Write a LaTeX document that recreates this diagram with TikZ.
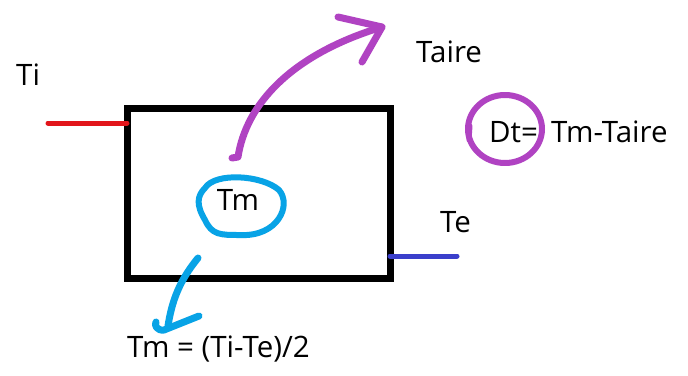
\documentclass[tikz,border=0pt]{standalone}
\usepackage{fontspec}
\setmainfont{Open Sans}
\usetikzlibrary{arrows.meta}
\definecolor{mag}{HTML}{B043C2}
\definecolor{cyanb}{HTML}{08A3E6}
\definecolor{redl}{HTML}{E2151B}
\definecolor{indl}{HTML}{3B3FCB}
\tikzset{
  lbl/.style={font=\fontsize{29.5}{32}\selectfont, inner sep=0pt},
  pen/.style={line width=#1, line cap=round, line join=round},
}
\begin{document}
\begin{tikzpicture}[x=1pt,y=-1pt]
\useasboundingbox[fill=white] (0,0) rectangle (688,375);
% box
\draw[line width=7pt] (127,108) rectangle (390,278);
\coordinate (boxL) at (127,123);
\coordinate (boxR) at (390,256);
\coordinate (redEnd) at (48,123);
\coordinate (indEnd) at (457,256);
\draw[pen=5pt, redl] (redEnd) -- (boxL);
\draw[pen=5pt, indl] (boxR) -- (indEnd);
% labels
\node[lbl, anchor=base west] (ti) at (16,85) {Ti};
\node[lbl, anchor=base west] (taire) at (416,62) {Taire};
\node[lbl, anchor=base west] (te) at (440,232) {Te};
\node[lbl, anchor=base west] (dt) at (489,142) {Dt=};
\node[lbl, anchor=base west] (dt2) at (551,142) {Tm-Taire};
\node[lbl] (tm) at (238,200) {Tm};
\node[lbl, anchor=base west] (tmeq) at (127,357) {Tm = (Ti-Te)/2};
% magenta arrow
\coordinate (ma) at (232,158);
\coordinate (mb) at (382,27);
\draw[pen=7pt, mag] (ma) -- (238,157) .. controls (246,105) and (290,55) .. (mb);
\draw[pen=7pt, mag] (338,17) -- (mb) -- (362,62);
% magenta circle
\draw[pen=6pt, mag] (505,129) ellipse (37 and 34);
\draw[pen=5pt, mag] (470,126) -- (469,140);
% cyan blob
\draw[pen=6pt, cyanb] (205,188) .. controls (215,172) and (262,175) .. (279,190)
  .. controls (292,205) and (278,237) .. (240,235)
  .. controls (220,235) and (212,235) .. (205,220)
  .. controls (196,205) and (197,196) .. (205,188);
% cyan arrow
\coordinate (ca) at (198,258);
\coordinate (cb) at (162,328);
\draw[pen=7pt, cyanb] (ca) .. controls (180,280) and (172,300) .. (168,326);
\draw[pen=7pt, cyanb] (199,316) -- (164,330) .. controls (157,331) and (154,325) .. (156,322);
\end{tikzpicture}
\end{document}
